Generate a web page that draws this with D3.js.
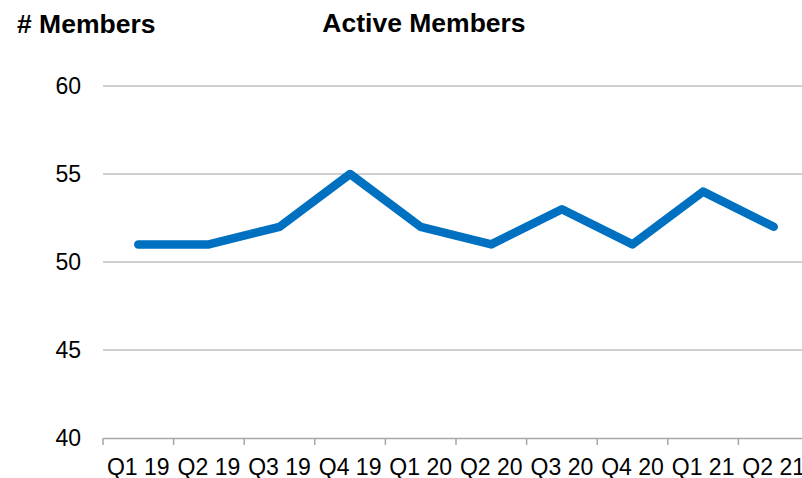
<!DOCTYPE html>
<html>
<head>
<meta charset="utf-8">
<title>Active Members</title>
<style>
body { margin:0; background:white; }
svg { display:block; font-family:"Liberation Sans", Arial, sans-serif; }
</style>
<script src="https://d3js.org/d3.v7.min.js"></script>
</head>
<body>
<div id="chart"></div>
<script>
// data
var quarters = ["Q1 19","Q2 19","Q3 19","Q4 19","Q1 20","Q2 20","Q3 20","Q4 20","Q1 21","Q2 21"];
var members = [51, 51, 52, 55, 52, 51, 53, 51, 54, 52];
var yTicks = [40, 45, 50, 55, 60];

var width = 802, height = 478;
var plotLeft = 103, plotRight = 809, plotTop = 86, plotBottom = 438;

var svg = d3.select("#chart").append("svg")
    .attr("width", width)
    .attr("height", height);

var x = d3.scaleBand().domain(quarters).range([plotLeft, plotRight]);
var y = d3.scaleLinear().domain([40, 60]).range([plotBottom, plotTop]);

// gridlines
svg.selectAll("line.grid")
    .data(yTicks.filter(function(d){ return d > 40; }))
    .enter().append("line")
    .attr("class", "grid")
    .attr("x1", plotLeft).attr("x2", plotRight)
    .attr("y1", function(d){ return y(d); })
    .attr("y2", function(d){ return y(d); })
    .attr("stroke", "#bfbfbf")
    .attr("stroke-width", 1.5);

// y labels
svg.selectAll("text.ylab")
    .data(yTicks)
    .enter().append("text")
    .attr("class", "ylab")
    .attr("x", 81)
    .attr("y", function(d){ return y(d); })
    .attr("dy", "0.35em")
    .attr("text-anchor", "end")
    .attr("font-size", 23)
    .attr("fill", "#000")
    .text(function(d){ return d; });

// x axis
var xAxis = d3.axisBottom(x).tickSize(0).tickFormat("");
var gx = svg.append("g").attr("transform", "translate(0," + plotBottom + ")").call(xAxis);
gx.select(".domain").attr("stroke", "#a6a6a6").attr("stroke-width", 1.5);

// category boundary ticks
var bounds = quarters.map(function(q){ return x(q); }).concat([x(quarters[quarters.length-1]) + x.bandwidth()]);
svg.selectAll("line.xtick")
    .data(bounds)
    .enter().append("line")
    .attr("class", "xtick")
    .attr("x1", function(d){ return d; }).attr("x2", function(d){ return d; })
    .attr("y1", plotBottom).attr("y2", plotBottom + 7)
    .attr("stroke", "#a6a6a6")
    .attr("stroke-width", 1.5);

// x labels
svg.selectAll("text.xlab")
    .data(quarters)
    .enter().append("text")
    .attr("class", "xlab")
    .attr("x", function(d){ return x(d) + x.bandwidth()/2; })
    .attr("y", 475)
    .attr("text-anchor", "middle")
    .attr("font-size", 23)
    .attr("fill", "#000")
    .text(function(d){ return d; });

// the line
var line = d3.line()
    .x(function(d, i){ return x(quarters[i]) + x.bandwidth()/2; })
    .y(function(d){ return y(d); });

svg.append("path")
    .datum(members)
    .attr("d", line)
    .attr("fill", "none")
    .attr("stroke", "#0070c0")
    .attr("stroke-width", 8.5)
    .attr("stroke-linecap", "round")
    .attr("stroke-linejoin", "round");

// titles
svg.append("text")
    .attr("x", 17).attr("y", 33)
    .attr("font-size", 26.5)
    .attr("font-weight", "bold")
    .text("# Members");

svg.append("text")
    .attr("x", 424).attr("y", 32)
    .attr("text-anchor", "middle")
    .attr("font-size", 26.5)
    .attr("font-weight", "bold")
    .text("Active Members");
</script>
</body>
</html>
